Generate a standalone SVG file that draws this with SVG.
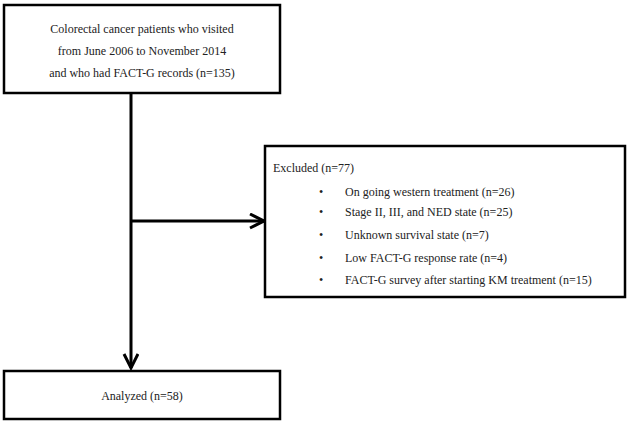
<svg xmlns="http://www.w3.org/2000/svg" width="630" height="421" viewBox="0 0 630 421">
<defs>
<style>
.box{fill:#fff;stroke:#000;stroke-width:2.5}
.t{font-family:"Liberation Serif","Times New Roman",serif;font-size:12px;fill:#222}
.c{text-anchor:middle}
.ln{fill:none;stroke:#000;stroke-width:3}
</style>
<marker id="arr" markerUnits="userSpaceOnUse" markerWidth="20" markerHeight="20" refX="15" refY="8" orient="auto">
<path d="M1,1 L15,8 L1,15" fill="none" stroke="#000" stroke-width="3"/>
</marker>
</defs>
<rect width="630" height="421" fill="#fff"/>
<g id="connectors">
<path class="ln" d="M131,93 V368" marker-end="url(#arr)"/>
<path class="ln" d="M131,221 H264" marker-end="url(#arr)"/>
</g>
<g id="source">
<rect class="box" x="4" y="5" width="276" height="88"/>
<text class="t c" x="142" y="33">Colorectal cancer patients who visited</text>
<text class="t c" x="142" y="55">from June 2006 to November 2014</text>
<text class="t c" x="142" y="77">and who had FACT-G records (n=135)</text>
</g>
<g id="excluded">
<rect class="box" x="265" y="146" width="360" height="151"/>
<text class="t" x="273" y="172">Excluded (n=77)</text>
<text class="t" x="319" y="196">•</text><text class="t" x="345" y="196">On going western treatment (n=26)</text>
<text class="t" x="319" y="216">•</text><text class="t" x="345" y="216">Stage II, III, and NED state (n=25)</text>
<text class="t" x="319" y="239">•</text><text class="t" x="345" y="239">Unknown survival state (n=7)</text>
<text class="t" x="319" y="262">•</text><text class="t" x="345" y="262">Low FACT-G response rate (n=4)</text>
<text class="t" x="319" y="284">•</text><text class="t" x="345" y="284">FACT-G survey after starting KM treatment (n=15)</text>
</g>
<g id="analyzed">
<rect class="box" x="4" y="371" width="276" height="48"/>
<text class="t c" x="142" y="400">Analyzed (n=58)</text>
</g>
</svg>
